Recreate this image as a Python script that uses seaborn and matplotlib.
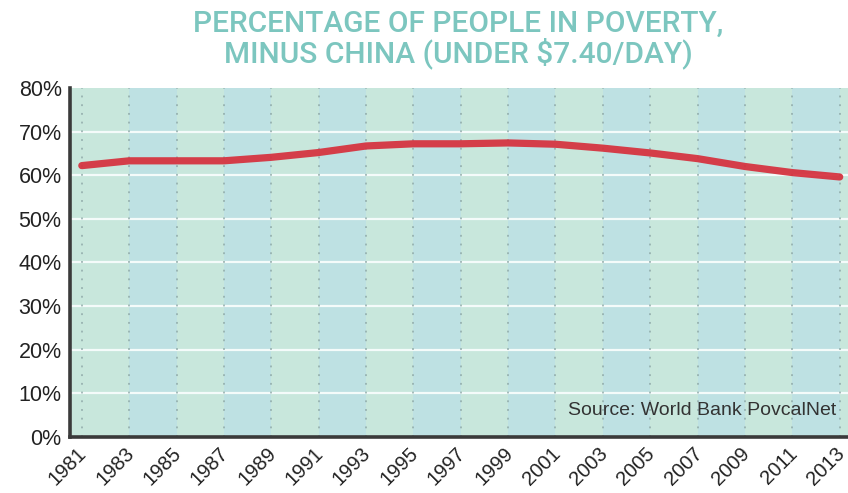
import matplotlib
matplotlib.use("Agg")
import matplotlib.pyplot as plt
import matplotlib.transforms as mtransforms
import seaborn as sns
import pandas as pd

years = [1981, 1983, 1985, 1987, 1989, 1991, 1993, 1995, 1997,
         1999, 2001, 2003, 2005, 2007, 2009, 2011, 2013]
poverty_pct = [62.2, 63.3, 63.3, 63.3, 64.1, 65.2, 66.7, 67.2, 67.2,
               67.4, 67.1, 66.2, 65.1, 63.8, 62.0, 60.6, 59.6]
y_ticks = [0, 10, 20, 30, 40, 50, 60, 70, 80]
y_tick_labels = [f"{v}%" for v in y_ticks]

title_text = "PERCENTAGE OF PEOPLE IN POVERTY,\nMINUS CHINA (UNDER $7.40/DAY)"
source_text = "Source: World Bank PovcalNet"

df = pd.DataFrame({"year": years, "pct": poverty_pct})

sns.set_style("white")
plt.rcParams["font.family"] = ["Liberation Sans", "DejaVu Sans"]

green_band = "#c8e7dc"
blue_band = "#bee1e3"
line_red = "#d62f3c"
title_teal = "#7cc6bf"
spine_dark = "#3a3a3a"

fig = plt.figure(figsize=(8.48, 4.93), dpi=100)
ax = fig.add_axes([0.0825, 0.1136, 0.9175, 0.708])
ax.set_facecolor(green_band)

# alternating column bands between the two-year ticks
for i in range(1, len(years) - 1, 2):
    ax.axvspan(years[i], years[i + 1], color=blue_band, lw=0, zorder=0)

# white horizontal grid lines
for v in y_ticks[1:-1]:
    ax.axhline(v, color="#f4fbfa", lw=1.6, zorder=1)

# dotted vertical guides at each year tick
for yr in years:
    ax.axvline(yr, color="#8fa9a8", lw=1.1, ls=(0, (1.2, 4.5)), zorder=1)

sns.lineplot(data=df, x="year", y="pct", ax=ax, color=line_red,
             linewidth=5.2, alpha=0.92, zorder=3)
for ln in ax.get_lines()[-1:]:
    ln.set_solid_capstyle("round")

ax.set_xlim(1980.5, 2013.35)
ax.set_ylim(0, 80)
ax.set_xticks(years)
ax.set_yticks(y_ticks)
ax.tick_params(axis="both", length=0, pad=6)
ax.tick_params(axis="x", pad=5)
ax.set_xticklabels([str(y) for y in years], rotation=45, ha="right",
                   rotation_mode="anchor", fontsize=14.5, color="#222222")
ax.set_yticklabels(y_tick_labels, fontsize=15.5, color="#222222")
ax.set_xlabel("")
ax.set_ylabel("")

# nudge the rotated year labels a little to the left
shift = mtransforms.ScaledTranslation(-5 / 100, 0, fig.dpi_scale_trans)
for lbl in ax.get_xticklabels():
    lbl.set_transform(lbl.get_transform() + shift)

for side in ["top", "right"]:
    ax.spines[side].set_visible(False)
ax.spines["left"].set_color(spine_dark)
ax.spines["left"].set_linewidth(2.6)
ax.spines["bottom"].set_color(spine_dark)
ax.spines["bottom"].set_linewidth(2.6)

ax.text(0.985, 0.075, source_text, transform=ax.transAxes, ha="right",
        va="center", fontsize=14, color="#333333", zorder=4)

fig.text(0.54, 0.92, title_text, ha="center", va="center",
         fontsize=21.5, color=title_teal, fontweight="medium",
         family=["Roboto", "DejaVu Sans"], linespacing=1.0)

fig.savefig("out.png", dpi=100)
